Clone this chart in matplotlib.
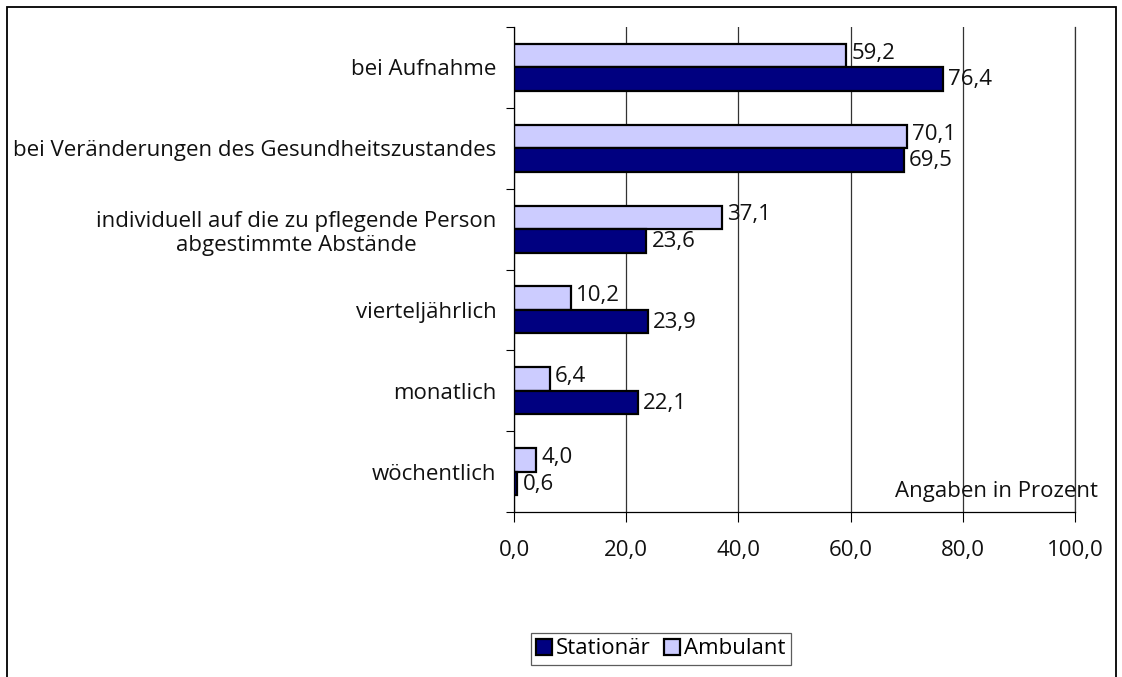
import matplotlib
matplotlib.use("Agg")
import matplotlib.pyplot as plt
from matplotlib.patches import Rectangle
from matplotlib.ticker import FixedLocator
import numpy as np

categories = ["bei Aufnahme",
              "bei Veränderungen des Gesundheitszustandes",
              "individuell auf die zu pflegende Person\nabgestimmte Abstände",
              "vierteljährlich",
              "monatlich",
              "wöchentlich"]
stationaer = [76.4, 69.5, 23.6, 23.9, 22.1, 0.6]
ambulant = [59.2, 70.1, 37.1, 10.2, 6.4, 4.0]
xticks = [0, 20, 40, 60, 80, 100]

plt.rcParams['font.family'] = ['Open Sans', 'DejaVu Sans']
FS = 16

fig = plt.figure(figsize=(11.22, 6.77), dpi=100)
ax = fig.add_axes([514/1122, 1-512/677, (1075-514)/1122, (512-27)/677])

n = len(categories)
y = np.arange(n)
h = 0.29
ax.barh(y - h/2, ambulant, height=h, color='#CCCCFF', edgecolor='black', linewidth=1.6, label='Ambulant', zorder=3)
ax.barh(y + h/2, stationaer, height=h, color='#000080', edgecolor='black', linewidth=1.6, label='Stationär', zorder=3)

for i in range(n):
    ax.text(ambulant[i] + 0.9, y[i] - h/2 - 0.03, f"{ambulant[i]:.1f}".replace('.', ','),
            va='center', ha='left', fontsize=FS, color='#111111', zorder=4)
    ax.text(stationaer[i] + 0.9, y[i] + h/2 + 0.01, f"{stationaer[i]:.1f}".replace('.', ','),
            va='center', ha='left', fontsize=FS, color='#111111', zorder=4)

ax.set_ylim(n - 0.5, -0.5)
ax.set_xlim(0, 100)
ax.set_yticks(y)
ax.set_yticklabels(categories, fontsize=FS, multialignment='center', color='#111111')
ax.yaxis.set_minor_locator(FixedLocator(np.arange(-0.5, n, 1.0)))
ax.tick_params(axis='y', which='major', length=0, pad=12.5)
ax.tick_params(axis='y', which='minor', length=6, width=0.8, direction='out')
ax.set_xticks(xticks)
ax.set_xticklabels([f"{v:.1f}".replace('.', ',') for v in xticks], fontsize=FS, color='#111111')
ax.tick_params(axis='x', length=7, width=0.8, direction='out', pad=13)
ax.grid(axis='x', color='#333333', linewidth=0.9, zorder=0)
ax.axvline(100, color='#333333', linewidth=0.9, zorder=0, clip_on=False)
ax.set_axisbelow(True)
for s in ['top', 'right']:
    ax.spines[s].set_visible(False)
for s in ['left', 'bottom']:
    ax.spines[s].set_linewidth(0.9)
    ax.spines[s].set_zorder(5)

fig.text(1098/1122, 1-491/677, "Angaben in Prozent", ha='right', va='center', fontsize=FS, color='#111111')

handles, labels = ax.get_legend_handles_labels()
leg = fig.legend(handles[::-1], labels[::-1], loc='center', bbox_to_anchor=(661/1122, 1-649/677),
                 ncol=2, fontsize=FS, frameon=True, fancybox=False, edgecolor='#333333',
                 handlelength=0.7, handleheight=0.7, handletextpad=0.2, columnspacing=0.6,
                 borderpad=0.25, borderaxespad=0)
leg.get_frame().set_linewidth(0.9)

fig.patches.append(Rectangle((7/1122, -0.05), (1116-7)/1122, 1-7/677+0.05, transform=fig.transFigure,
                             fill=False, edgecolor='black', linewidth=1.3))

fig.savefig("out.png", dpi=100)
